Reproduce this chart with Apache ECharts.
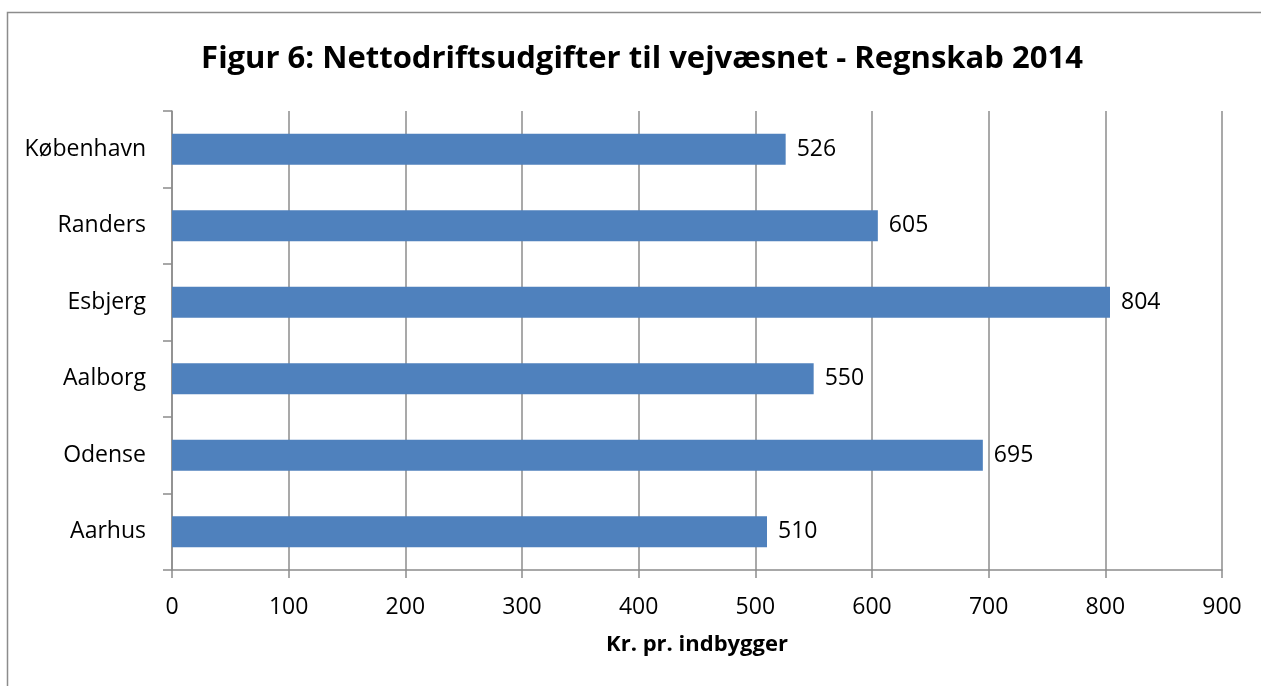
<!DOCTYPE html>
<html>
<head>
<meta charset="utf-8">
<script src="https://cdn.jsdelivr.net/npm/echarts@6/dist/echarts.min.js"></script>
<style>
  html, body { margin: 0; padding: 0; background: #fff; }
  #chart { width: 1261px; height: 686px; }
</style>
</head>
<body>
<div id="chart"></div>
<script>
// bottom to top, as drawn on a category y-axis
const cities = ["Aarhus", "Odense", "Aalborg", "Esbjerg", "Randers", "København"];
const costPerCitizen = [510, 695, 550, 804, 605, 526];
const xTicks = [0, 100, 200, 300, 400, 500, 600, 700, 800, 900];

const FONT = "'Open Sans', 'Noto Sans', sans-serif";
const GRID_COLOR = "#8c8c8c";

const chart = echarts.init(document.getElementById("chart"));

chart.setOption({
  backgroundColor: "#fff",
  animation: false,
  title: {
    text: "Figur 6: Nettodriftsudgifter til vejvæsnet - Regnskab 2014",
    left: 637,
    top: 39,
    textAlign: "center",
    textStyle: { fontFamily: FONT, fontWeight: "bold", fontSize: 31, color: "#000" }
  },
  graphic: [{
    type: "rect",
    shape: { x: 7.5, y: 12.5, width: 1400, height: 800 },
    style: { fill: "none", stroke: "#8c8c8c", lineWidth: 1.5 },
    silent: true
  }],
  grid: { left: 172, right: 39, top: 111, bottom: 116, containLabel: false },
  xAxis: {
    type: "value",
    min: xTicks[0],
    max: xTicks[xTicks.length - 1],
    interval: 100,
    name: "Kr. pr. indbygger",
    nameLocation: "middle",
    nameGap: 64,
    nameTextStyle: { fontFamily: FONT, fontWeight: "bold", fontSize: 22, color: "#000" },
    axisLine: { show: true, lineStyle: { color: GRID_COLOR, width: 1.5 } },
    axisTick: { show: true, length: 8, lineStyle: { color: GRID_COLOR, width: 1.5 } },
    axisLabel: { fontFamily: FONT, fontSize: 23, color: "#000", margin: 26 },
    splitLine: { show: true, lineStyle: { color: GRID_COLOR, width: 1.5 } }
  },
  yAxis: {
    type: "category",
    data: cities,
    axisLine: { show: true, lineStyle: { color: GRID_COLOR, width: 1.5 } },
    axisTick: { show: true, length: 9, alignWithLabel: false, lineStyle: { color: GRID_COLOR, width: 1.5 } },
    axisLabel: { fontFamily: FONT, fontSize: 23, color: "#000", margin: 26 }
  },
  series: [{
    type: "bar",
    data: costPerCitizen,
    barWidth: 31,
    itemStyle: { color: "#4f81bd" },
    label: {
      show: true,
      position: "right",
      distance: 11,
      fontFamily: FONT,
      fontSize: 23,
      color: "#000"
    }
  }]
});
</script>
</body>
</html>
